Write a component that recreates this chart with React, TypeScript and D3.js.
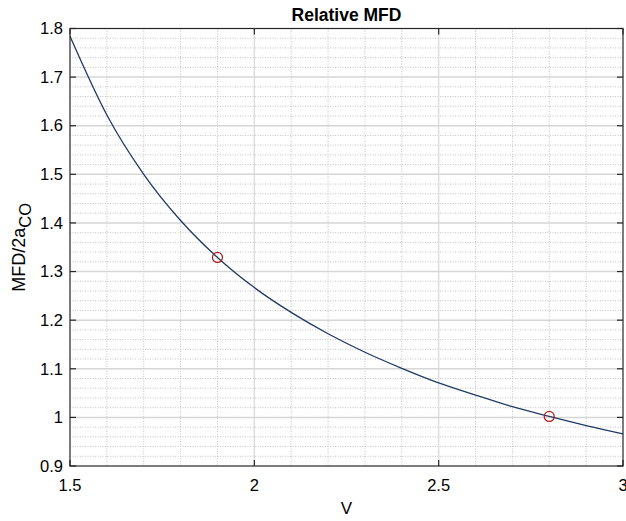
import React from "react";
import * as d3 from "d3";

// values
const vValues = [1.5, 1.6, 1.7, 1.8, 1.9, 2.0, 2.1, 2.2, 2.3, 2.4, 2.5, 2.6, 2.7, 2.8, 2.9, 3.0];
const mfdValues = [1.784, 1.622, 1.5, 1.405, 1.329, 1.267, 1.216, 1.172, 1.134, 1.101, 1.071, 1.046, 1.022, 1.002, 0.983, 0.966];

// marked points
const markV = [1.9, 2.8];
const markMfd = [1.329, 1.002];

const xTicks = [1.5, 2, 2.5, 3];
const yTicks = [0.9, 1, 1.1, 1.2, 1.3, 1.4, 1.5, 1.6, 1.7, 1.8];

const margin = { top: 28.5, right: 3, bottom: 55, left: 70 };
const W = 626, H = 521;
const width = W - margin.left - margin.right;
const height = H - margin.top - margin.bottom;

const font = "'Liberation Sans', Arial, sans-serif";

export default function App() {
  const x = d3.scaleLinear().domain([1.5, 3]).range([0, width]);
  const y = d3.scaleLinear().domain([0.9, 1.8]).range([height, 0]);

  const xMinor = d3.range(15, 31).map((d) => d / 10).filter((d) => !xTicks.some((t) => Math.abs(t - d) < 1e-6));
  const yMinor = d3.range(45, 91).map((d) => d / 50).filter((d) => !yTicks.some((t) => Math.abs(t - d) < 1e-6));

  const line = d3.line<number>()
    .x((_, i) => x(vValues[i]))
    .y((d) => y(d))
    .curve(d3.curveMonotoneX);

  const axisColor = "#262626";

  return (
    <svg width={W} height={H} style={{ position: "absolute", left: 0, top: 0, background: "#fff" }}>
      <g transform={`translate(${margin.left},${margin.top})`}>
        {/* minor grid */}
        {xMinor.map((d) => (
          <line key={"xm" + d} x1={x(d)} x2={x(d)} y1={0} y2={height}
            stroke="#c4c4c4" strokeWidth={1} strokeDasharray="1,1.5" />
        ))}
        {yMinor.map((d) => (
          <line key={"ym" + d} x1={0} x2={width} y1={y(d)} y2={y(d)}
            stroke="#c4c4c4" strokeWidth={1} strokeDasharray="1,1.5" />
        ))}
        {/* major grid */}
        {xTicks.slice(1, -1).map((d) => (
          <line key={"xg" + d} x1={x(d)} x2={x(d)} y1={0} y2={height} stroke="#dedede" strokeWidth={1.5} />
        ))}
        {yTicks.slice(1, -1).map((d) => (
          <line key={"yg" + d} x1={0} x2={width} y1={y(d)} y2={y(d)} stroke="#d6d6d6" strokeWidth={1.5} />
        ))}

        {/* curve */}
        <path d={line(mfdValues) || ""} fill="none" stroke="#1f3b63" strokeWidth={1.3} />

        {markV.map((v, i) => (
          <circle key={"m" + i} cx={x(v)} cy={y(markMfd[i])} r={5} fill="none" stroke="#b01c1c" strokeWidth={1.2} />
        ))}

        {/* box */}
        <rect x={0} y={0} width={width} height={height} fill="none" stroke={axisColor} strokeWidth={1.2} />

        {/* ticks */}
        {xTicks.map((d) => (
          <g key={"xt" + d}>
            <line x1={x(d)} x2={x(d)} y1={height} y2={height - 6} stroke={axisColor} strokeWidth={1.2} />
            <line x1={x(d)} x2={x(d)} y1={0} y2={6} stroke={axisColor} strokeWidth={1.2} />
            <text x={x(d)} y={height + 19} dy="0.35em" textAnchor="middle" fontFamily={font} fontSize={16.5} fill="#000">
              {d}
            </text>
          </g>
        ))}
        {yTicks.map((d) => (
          <g key={"yt" + d}>
            <line x1={0} x2={6} y1={y(d)} y2={y(d)} stroke={axisColor} strokeWidth={1.2} />
            <line x1={width} x2={width - 6} y1={y(d)} y2={y(d)} stroke={axisColor} strokeWidth={1.2} />
            <text x={-7} y={y(d)} dy="0.35em" textAnchor="end" fontFamily={font} fontSize={16.5} fill="#000">
              {d}
            </text>
          </g>
        ))}

        {/* title */}
        <text x={width / 2} y={-8} textAnchor="middle" fontFamily={font} fontSize={17.5} fontWeight="bold" fill="#000">
          Relative MFD
        </text>

        {/* x label */}
        <text x={width / 2} y={height + 42} dy="0.35em" textAnchor="middle" fontFamily={font} fontSize={17} fill="#000">
          V
        </text>
      </g>

      {/* y label */}
      <text transform={`translate(25,${margin.top + height / 2}) rotate(-90)`} textAnchor="middle"
        fontFamily={font} fontSize={18} fill="#000">
        MFD/2a<tspan dy={6} fontSize={16.5}>CO</tspan>
      </text>
    </svg>
  );
}
